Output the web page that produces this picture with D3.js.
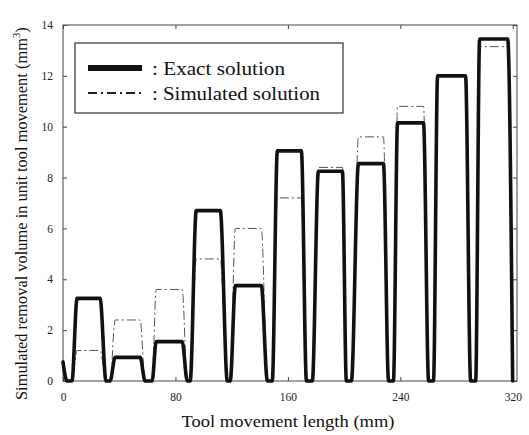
<!DOCTYPE html>
<html>
<head>
<meta charset="utf-8">
<script src="https://cdn.jsdelivr.net/npm/d3@7"></script>
<style>
  html, body { margin: 0; padding: 0; background: #fff; }
  svg { display: block; font-family: "Liberation Serif", "Times New Roman", serif; }
</style>
</head>
<body>
<svg id="chart" width="529" height="435"></svg>
<script>
// Tool movement length (mm) at each vertex of the two piecewise-linear profiles
const lengthMm = [
  0, 2.9, 6.4, 10.0, 26.4, 30.6, 33.5, 37.1, 54.9, 58.4, 63.4, 66.3, 84.8, 88.4,
  90.5, 94.8, 111.9, 116.9, 119.0, 122.6, 141.1, 145.4, 148.9, 152.5, 169.6, 173.2,
  177.4, 181.7, 198.8, 201.6, 205.2, 210.2, 228.0, 231.6, 235.1, 238.0, 256.5, 260.1,
  263.6, 266.5, 286.4, 290.0, 293.6, 296.4, 316.4, 319.9
];
// Removal volume per unit tool movement (mm^3), exact solution
const exactVolume = [
  0.75, 0, 0, 3.25, 3.25, 0, 0, 0.93, 0.93, 0, 0, 1.55, 1.55, 0,
  0, 6.7, 6.7, 0, 0, 3.75, 3.75, 0, 0, 9.05, 9.05, 0,
  0, 8.25, 8.25, 0, 0, 8.55, 8.55, 0, 0, 10.15, 10.15, 0,
  0, 12.0, 12.0, 0, 0, 13.45, 13.45, 0
];
// Removal volume per unit tool movement (mm^3), simulated solution
const simulatedVolume = [
  0.75, 0, 0, 1.2, 1.2, 0, 0, 2.4, 2.4, 0, 0, 3.6, 3.6, 0,
  0, 4.8, 4.8, 0, 0, 6.0, 6.0, 0, 0, 7.2, 7.2, 0,
  0, 8.4, 8.4, 0, 0, 9.6, 9.6, 0, 0, 10.8, 10.8, 0,
  0, 12.0, 12.0, 0, 0, 13.15, 13.15, 0
];
const xTicks = [0, 80, 160, 240, 320];
const yTicks = [0, 2, 4, 6, 8, 10, 12, 14];
const legendLabels = [": Exact solution", ": Simulated solution"];

const svg = d3.select("#chart");
const plotLeft = 63, plotRight = 517, plotTop = 25, plotBottom = 381;

const x = d3.scaleLinear().domain([0, 323]).range([plotLeft, plotRight]);
const y = d3.scaleLinear().domain([0, 14]).range([plotBottom, plotTop]);

// inward ticks on all four sides
const tickColor = "#444";
function styleAxis(g) {
  g.select(".domain").remove();
  g.selectAll(".tick line").attr("stroke", tickColor).attr("stroke-width", 1);
  g.selectAll(".tick text")
    .attr("fill", "#222")
    .attr("font-family", "Liberation Serif, serif")
    .attr("font-size", 11.5);
}

svg.append("g")
  .attr("transform", `translate(0,${plotBottom})`)
  .call(d3.axisBottom(x).tickValues(xTicks).tickSizeInner(-4).tickSizeOuter(0).tickPadding(12))
  .call(styleAxis);

svg.append("g")
  .attr("transform", `translate(0,${plotTop})`)
  .call(d3.axisTop(x).tickValues(xTicks).tickSizeInner(-4).tickSizeOuter(0).tickFormat(""))
  .call(styleAxis);

svg.append("g")
  .attr("transform", `translate(${plotLeft},0)`)
  .call(d3.axisLeft(y).tickValues(yTicks).tickSizeInner(-4).tickSizeOuter(0).tickPadding(10))
  .call(styleAxis);

svg.append("g")
  .attr("transform", `translate(${plotRight},0)`)
  .call(d3.axisRight(y).tickValues(yTicks).tickSizeInner(-4).tickSizeOuter(0).tickFormat(""))
  .call(styleAxis);

// plot frame
svg.append("rect")
  .attr("x", plotLeft).attr("y", plotTop)
  .attr("width", plotRight - plotLeft).attr("height", plotBottom - plotTop)
  .attr("fill", "none").attr("stroke", "#444").attr("stroke-width", 1);

const pts = (vals) => lengthMm.map((d, i) => [d, vals[i]]);
const line = d3.line().x(d => x(d[0])).y(d => y(d[1])).curve(d3.curveMonotoneX);

// simulated solution: thin dash-dot
svg.append("path")
  .attr("d", line(pts(simulatedVolume)))
  .attr("fill", "none")
  .attr("stroke", "#555")
  .attr("stroke-width", 1)
  .attr("stroke-dasharray", "9,3,2,3");

// exact solution: thick solid
svg.append("path")
  .attr("d", line(pts(exactVolume)))
  .attr("fill", "none")
  .attr("stroke", "#111")
  .attr("stroke-width", 3.6)
  .attr("stroke-linejoin", "round")
  .attr("stroke-linecap", "round");

// legend
const lg = svg.append("g");
lg.append("rect")
  .attr("x", 75).attr("y", 43).attr("width", 268).attr("height", 70)
  .attr("fill", "#fff").attr("stroke", "#333").attr("stroke-width", 1.2);
lg.append("line")
  .attr("x1", 88).attr("x2", 142).attr("y1", 68).attr("y2", 68)
  .attr("stroke", "#111").attr("stroke-width", 6);
lg.append("line")
  .attr("x1", 88).attr("x2", 142).attr("y1", 93).attr("y2", 93)
  .attr("stroke", "#222").attr("stroke-width", 2)
  .attr("stroke-dasharray", "9,4,2,4");
const legendWidths = [133, 168];
lg.selectAll("text.lbl")
  .data(legendLabels)
  .join("text")
  .attr("class", "lbl")
  .attr("x", 152)
  .attr("y", (d, i) => 75 + i * 25)
  .attr("font-size", 19)
  .attr("fill", "#111")
  .attr("textLength", (d, i) => legendWidths[i])
  .attr("lengthAdjust", "spacingAndGlyphs")
  .text(d => d);

// axis titles
svg.append("text")
  .attr("x", 288).attr("y", 427)
  .attr("text-anchor", "middle")
  .attr("font-size", 16)
  .attr("fill", "#111")
  .attr("textLength", 213)
  .attr("lengthAdjust", "spacingAndGlyphs")
  .text("Tool movement length (mm)");

const yt = svg.append("text")
  .attr("transform", "translate(27,400) rotate(-90)")
  .attr("x", 0).attr("y", 0)
  .attr("font-size", 16.4)
  .attr("fill", "#111");
yt.append("tspan").text("Simulated removal volume in unit tool movement (mm");
yt.append("tspan").attr("font-size", 10.5).attr("dy", -7).text("3");
yt.append("tspan").attr("dy", 7).text(")");
</script>
</body>
</html>
